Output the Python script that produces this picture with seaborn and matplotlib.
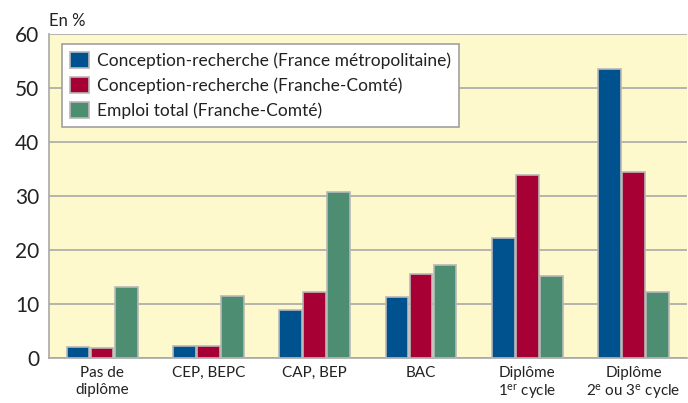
import matplotlib.pyplot as plt
import seaborn as sns
import pandas as pd

# data
categories = ['Pas de\ndiplôme', 'CEP, BEPC', 'CAP, BEP', 'BAC',
              'Diplôme\n1$^{\\mathrm{er}}$ cycle', 'Diplôme\n2$^{\\mathrm{e}}$ ou 3$^{\\mathrm{e}}$ cycle']
series = ['Conception-recherche (France métropolitaine)',
          'Conception-recherche (Franche-Comté)',
          'Emploi total (Franche-Comté)']
france_metro = [2.0, 2.3, 8.8, 11.3, 22.3, 53.6]
franche_comte = [1.9, 2.3, 12.2, 15.5, 33.8, 34.5]
emploi_total = [13.2, 11.5, 30.8, 17.3, 15.2, 12.3]
colors = ['#00528f', '#a60035', '#4d8e72']

rows = []
for name, vals in zip(series, [france_metro, franche_comte, emploi_total]):
    for c, v in zip(categories, vals):
        rows.append({'cat': c, 'serie': name, 'val': v})
df = pd.DataFrame(rows)

sns.set_style('white')
plt.rcParams['font.family'] = ['Lato', 'DejaVu Sans']
plt.rcParams['mathtext.fontset'] = 'custom'
plt.rcParams['mathtext.rm'] = 'Lato'
plt.rcParams['mathtext.it'] = 'Lato'

fig = plt.figure(figsize=(6.88, 4.03), dpi=100)
ax = fig.add_axes([0.0712, 0.1117, 0.927, 0.804])
ax.set_facecolor('#fef9cc')

sns.barplot(data=df, x='cat', y='val', hue='serie', order=categories, hue_order=series,
            palette=colors, width=0.68, gap=0.06, edgecolor='#b8b8b8', linewidth=1.2,
            saturation=1, ax=ax, zorder=3)

ax.set_ylim(0, 60)
ax.set_xlim(-0.5, 5.5)
ax.set_yticks(range(0, 61, 10))
ax.yaxis.grid(True, color='#a8a8a8', linewidth=1.2, zorder=0)
ax.set_axisbelow(True)
ax.tick_params(axis='y', labelsize=15, length=0, pad=7, labelcolor='#222222')
ax.tick_params(axis='x', labelsize=11, length=0, pad=6, labelcolor='#222222')
for lbl in ax.get_xticklabels():
    lbl.set_linespacing(1.2)
ax.set_xlabel('')
ax.set_ylabel('')
for s in ['top', 'right']:
    ax.spines[s].set_visible(False)
for s in ['left', 'bottom']:
    ax.spines[s].set_color('#a8a8a8')
    ax.spines[s].set_linewidth(1.2)

ax.text(0.0, 1.015, 'En %', transform=ax.transAxes, fontsize=12, color='#222222',
        ha='left', va='bottom')

leg = ax.legend(loc='upper left', bbox_to_anchor=(0.02, 0.97), borderaxespad=0,
                fontsize=12.5, frameon=True, fancybox=False, framealpha=1,
                edgecolor='#a0a0a0', handlelength=1.1, handleheight=1.1,
                handletextpad=0.5, labelspacing=0.45, borderpad=0.45)
leg.get_frame().set_linewidth(1.2)
for t in leg.get_texts():
    t.set_color('#222222')

fig.savefig('out.png', dpi=100)
